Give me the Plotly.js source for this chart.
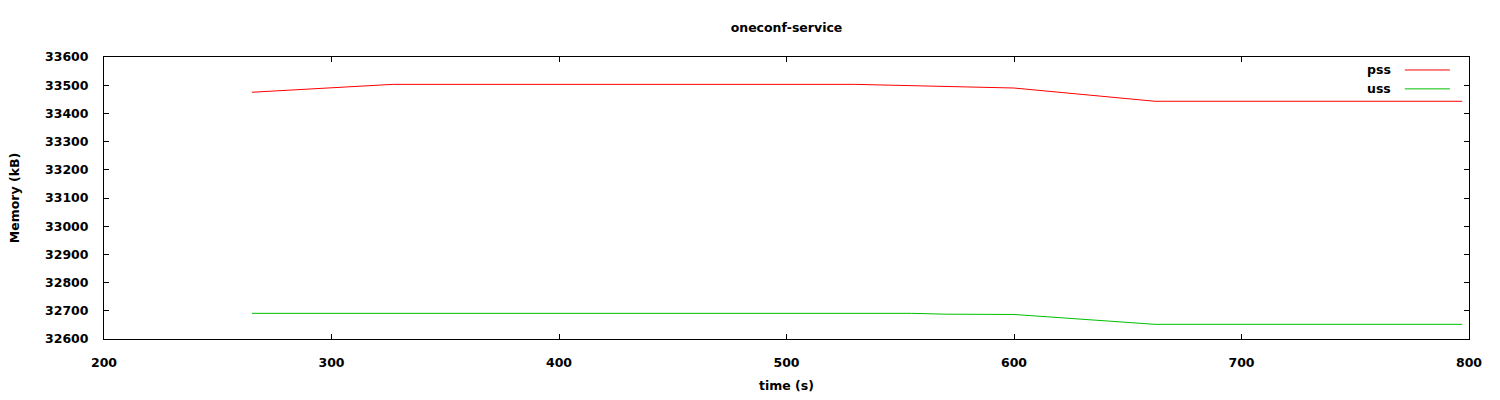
<!DOCTYPE html>
<html>
<head>
<meta charset="utf-8">
<script src="https://cdn.plot.ly/plotly-3.0.1.min.js"></script>
<style>html,body{margin:0;padding:0;background:#fff;}#chart{width:1500px;height:400px;}</style>
</head>
<body>
<div id="chart"></div>
<script>
const chartTitle = "oneconf-service";
const xTitle = "time (s)";
const yTitle = "Memory (kB)";
const pssTime = [265, 327, 530, 600, 662, 797];
const pssValues = [33475, 33503, 33503, 33490, 33443, 33443];
const ussTime = [265, 555, 570, 600, 662, 797];
const ussValues = [32691, 32691, 32688, 32687, 32652, 32652];
const seriesNames = ["pss", "uss"];
const seriesColors = ["#ff0000", "#00c000"];

const font = {family: "DejaVu Sans, sans-serif", size: 12.5, color: "#000", weight: "bold"};

const traces = [
  {x: pssTime, y: pssValues, name: seriesNames[0], mode: "lines", line: {color: seriesColors[0], width: 1}},
  {x: ussTime, y: ussValues, name: seriesNames[1], mode: "lines", line: {color: seriesColors[1], width: 1}}
];

const legendY = [0.954, 0.887];
const annotations = seriesNames.map((n, i) => ({
  text: n, xref: "paper", yref: "paper", x: 0.944, y: legendY[i],
  xanchor: "right", yanchor: "middle", showarrow: false, font: font
}));
const shapes = seriesNames.map((n, i) => ({
  type: "line", xref: "paper", yref: "paper", x0: 0.953, x1: 0.986, y0: legendY[i], y1: legendY[i],
  line: {color: seriesColors[i], width: 1}
}));

const axisCommon = {
  showline: true, linecolor: "#000", linewidth: 1, mirror: "ticks",
  ticks: "inside", ticklen: 5, tickcolor: "#000", tickwidth: 1,
  showgrid: false, zeroline: false, tickfont: font, tickformat: "d"
};

const layout = {
  width: 1500, height: 400,
  margin: {l: 104, r: 31, t: 57, b: 61},
  paper_bgcolor: "#fff", plot_bgcolor: "#fff",
  showlegend: false,
  font: font,
  title: {text: chartTitle, font: font, xref: "paper", x: 0.5, xanchor: "center", y: 0.93, yanchor: "middle"},
  xaxis: Object.assign({}, axisCommon, {
    range: [200, 800], dtick: 100, tick0: 200, ticklabelstandoff: 12,
    title: {text: xTitle, font: font, standoff: 12}
  }),
  yaxis: Object.assign({}, axisCommon, {
    range: [32600, 33600], dtick: 100, tick0: 32600, ticklabelstandoff: 12,
    title: {text: yTitle, font: font, standoff: 22}
  }),
  annotations: annotations,
  shapes: shapes
};

Plotly.newPlot("chart", traces, layout, {displayModeBar: false, staticPlot: true});
</script>
</body>
</html>
